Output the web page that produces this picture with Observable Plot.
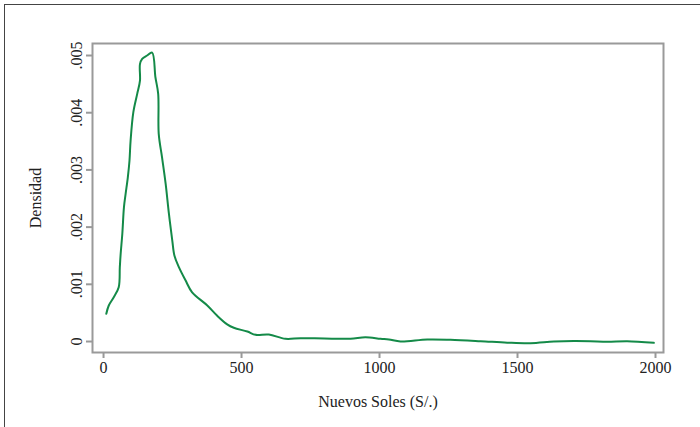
<!DOCTYPE html>
<html>
<head>
<meta charset="utf-8">
<script src="https://cdn.jsdelivr.net/npm/d3@7"></script>
<script src="https://cdn.jsdelivr.net/npm/@observablehq/plot@0.6"></script>
<style>
  html, body { margin: 0; padding: 0; background: #fff; }
  #wrap { position: relative; width: 700px; height: 427px; overflow: hidden; }
  #border { position: absolute; left: 4px; top: 4px; width: 720px; height: 440px; border: 1px solid #444; box-sizing: border-box; pointer-events: none; }
</style>
</head>
<body>
<div id="wrap"><div id="border"></div></div>
<script>
// Kernel density estimate of income (Nuevos Soles)
const soles = [10, 19, 37, 55, 59, 62, 68, 74, 80, 88, 94, 98, 108, 122, 132, 132, 140, 158, 176, 188, 198, 200, 212, 225, 237, 249, 257, 273, 297, 321, 376, 412, 448, 472, 521, 551, 599, 659, 714, 800, 895, 949, 1004, 1034, 1076, 1173, 1257, 1366, 1463, 1547, 1632, 1704, 1764, 1825, 1897, 1994];
const densidad = [0.000484, 0.00063, 0.000775, 0.00095, 0.0013, 0.00153, 0.00188, 0.00235, 0.00258, 0.00287, 0.00316, 0.00351, 0.00401, 0.00433, 0.00456, 0.00485, 0.00494, 0.0050, 0.00505, 0.00462, 0.00433, 0.00363, 0.00322, 0.00276, 0.00223, 0.00177, 0.0015, 0.0013, 0.00107, 0.00086, 0.00063, 0.00045, 0.0003, 0.00024, 0.000175, 0.000117, 0.000122, 0.000047, 0.000058, 0.000052, 0.00005, 0.000075, 0.000047, 0.000035, 0.0, 0.000035, 0.00003, 0.000006, -0.00002, -0.00003, 0.0, 0.00001, 0.000006, -0.000006, 0.000006, -0.000023];
const xTicks = [0, 500, 1000, 1500, 2000];
const yTicks = [0, 0.001, 0.002, 0.003, 0.004, 0.005];
const xLabel = "Nuevos Soles (S/.)";
const yLabel = "Densidad";

const data = soles.map((s, i) => ({x: s, y: densidad[i]}));
const fmtY = d => d === 0 ? "0" : d3.format(".3f")(d).replace(/^0/, "");

const chart = Plot.plot({
  width: 700,
  height: 427,
  marginLeft: 92,
  marginRight: 37,
  marginTop: 43,
  marginBottom: 75,
  style: {fontFamily: "'Liberation Serif', 'DejaVu Serif', serif", fontSize: "16px", color: "#222", background: "transparent"},
  x: {domain: [-40, 2029]},
  y: {domain: [-0.000192, 0.00521]},
  marks: [
    Plot.axisX({ticks: xTicks, tickFormat: d => String(d), tickSize: 6, tickPadding: 3, stroke: "#999", strokeWidth: 2, label: null, fontSize: 16}),
    Plot.axisY({ticks: yTicks, tickFormat: fmtY, tickSize: 6, tickPadding: 5, tickRotate: -90, stroke: "#999", strokeWidth: 2, label: null, fontSize: 16}),
    Plot.frame({stroke: "#9a9a9a", strokeWidth: 2}),
    Plot.line(data, {x: "x", y: "y", stroke: "#148a48", strokeWidth: 2, curve: "catmull-rom"}),
    Plot.text([xLabel], {frameAnchor: "bottom", dy: 54, text: d => d, fontSize: 16, fill: "#222"}),
    Plot.text([yLabel], {frameAnchor: "left", dx: -57, rotate: -90, textAnchor: "middle", text: d => d, fontSize: 16, fill: "#222"})
  ]
});
document.getElementById("wrap").prepend(chart);
</script>
</body>
</html>
